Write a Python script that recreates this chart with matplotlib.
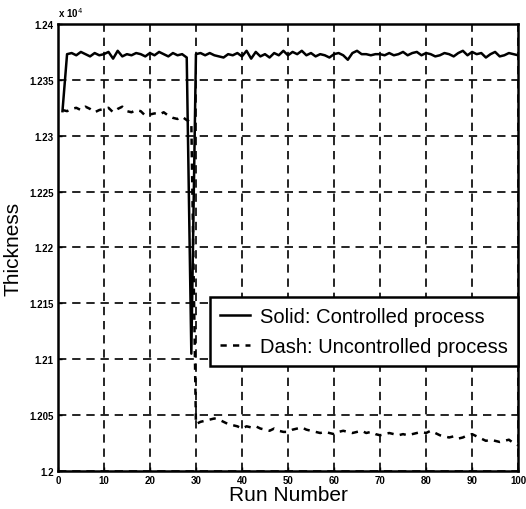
import numpy as np
import matplotlib
matplotlib.use('Agg')
import matplotlib.pyplot as plt

# ------------------------------------------------------------------
# data read off the figure (thickness, real units)

runs = list(range(1, 101))

controlled = [12322, 12373, 12374, 12372, 12375, 12373, 12371, 12374, 12372, 12373,
              12375, 12369, 12376, 12371, 12373, 12372, 12374, 12373, 12371, 12374,
              12372, 12375, 12373, 12371, 12374, 12372, 12373, 12370, 12105, 12373,
              12374, 12372, 12374, 12372, 12371, 12370, 12373, 12372, 12374, 12371,
              12376, 12369, 12375, 12371, 12373, 12370, 12374, 12372, 12376, 12372,
              12375, 12373, 12376, 12372, 12374, 12371, 12373, 12372, 12370, 12373,
              12374, 12372, 12368, 12374, 12376, 12373, 12373, 12372, 12373, 12373,
              12372, 12374, 12372, 12373, 12375, 12372, 12374, 12375, 12372, 12374,
              12373, 12371, 12372, 12374, 12373, 12371, 12374, 12376, 12372, 12375,
              12373, 12374, 12370, 12373, 12375, 12371, 12372, 12374, 12373, 12372]

uncontrolled = [12323, 12322, 12324, 12325, 12323, 12326, 12324, 12321, 12323, 12324,
                12325, 12321, 12324, 12326, 12322, 12321, 12323, 12322, 12318, 12319,
                12320, 12319, 12321, 12318, 12316, 12315, 12317, 12314, 12312, 12042,
                12044, 12045, 12046, 12047, 12046, 12044, 12042, 12041, 12040, 12038,
                12040, 12039, 12040, 12038, 12037, 12036, 12038, 12036, 12035, 12035,
                12037, 12038, 12039, 12037, 12036, 12035, 12034, 12035, 12034, 12033,
                12035, 12036, 12035, 12034, 12035, 12036, 12034, 12035, 12033, 12032,
                12033, 12034, 12033, 12032, 12033, 12032, 12033, 12034, 12035, 12034,
                12036, 12034, 12032, 12031, 12030, 12031, 12029, 12030, 12032, 12033,
                12031, 12029, 12027, 12028, 12027, 12026, 12027, 12028, 12025, 12023]

xticks = list(range(0, 101, 10))
yticks = [1.2, 1.205, 1.21, 1.215, 1.22, 1.225, 1.23, 1.235, 1.24]
ytick_labels = ['1.2', '1.205', '1.21', '1.215', '1.22', '1.225', '1.23', '1.235', '1.24']

scale = 1e4

# ------------------------------------------------------------------

plt.rcParams['font.family'] = ['Liberation Sans', 'DejaVu Sans']

fig = plt.figure(figsize=(5.26, 5.10), dpi=100)
ax = fig.add_axes([0.110, 0.0745, 0.875, 0.8765])

ax.plot(runs, np.array(controlled) / scale, color='black', linewidth=1.8,
        label='Solid: Controlled process')
ax.plot(runs, np.array(uncontrolled) / scale, color='black', linewidth=1.8,
        linestyle=(0, (2.5, 2.5)), label='Dash: Uncontrolled process')

ax.set_xlim(0, 100)
ax.set_ylim(1.2, 1.24)
ax.set_xticks(xticks)
ax.set_xticklabels([str(t) for t in xticks], fontsize=7, fontweight='bold')
ax.set_yticks(yticks)
ax.set_yticklabels(ytick_labels, fontsize=7, fontweight='bold')
ax.tick_params(direction='in', length=3, width=1, pad=3)

ax.grid(True, color='black', linestyle=(0, (5, 3.5)), linewidth=1.2)

for s in ax.spines.values():
    s.set_linewidth(1.8)

ax.set_xlabel('Run Number', fontsize=15, labelpad=0)
ax.set_ylabel('Thickness', fontsize=15, labelpad=5)

ax.text(0.0, 1.012, r'x 10$^4$', transform=ax.transAxes, fontsize=7,
        fontweight='bold', ha='left', va='bottom')

leg = ax.legend(loc='lower right', bbox_to_anchor=(1.0, 0.235), fontsize=14.5,
                frameon=True, fancybox=False, handlelength=1.5,
                handletextpad=0.5, borderpad=0.5, labelspacing=0.55,
                borderaxespad=0)
leg.get_frame().set_edgecolor('black')
leg.get_frame().set_linewidth(1.8)
leg.get_frame().set_alpha(1)

plt.savefig('out.png', dpi=100)
